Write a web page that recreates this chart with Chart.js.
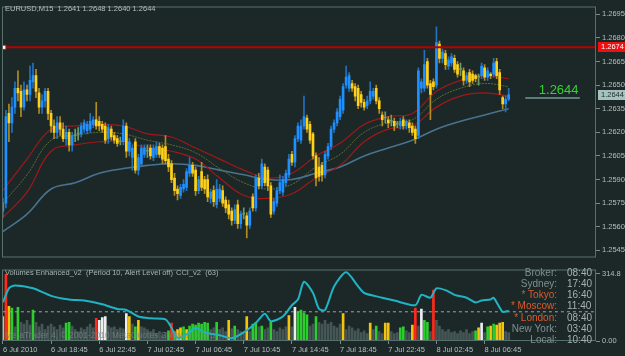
<!DOCTYPE html>
<html>
<head>
<meta charset="utf-8">
<script src="https://cdn.jsdelivr.net/npm/chart.js@4.4.1/dist/chart.umd.min.js"></script>
<style>
  html, body { margin: 0; padding: 0; background: #1c2828; }
  #wrap { position: relative; width: 625px; height: 356px; overflow: hidden; }
  canvas { position: absolute; left: 0; }
  #price { top: 0; }
  #lower { top: 263px; }
</style>
</head>
<body>
<div id="wrap">
  <canvas id="price" width="625" height="264"></canvas>
  <canvas id="lower" width="625" height="93"></canvas>
</div>
<script>
// EURUSD M15, 6 Jul 14:45 .. 8 Jul 08:45 (2010)
var symbolText = 'EURUSD,M15';

var opens = [
  1.2570,1.2575,1.2632,1.2626,1.2636,1.2648,1.2646,1.2636,1.2647,1.2644,1.2652,1.2656,1.2645,1.2636,1.2640,1.2646,
  1.2632,1.2624,1.2620,1.2626,1.2622,1.2616,1.2620,1.2612,1.2618,1.2619,1.2619,1.2622,1.2621,1.2622,1.2625,1.2628,
  1.2627,1.2625,1.2624,1.2616,1.2622,1.2618,1.2616,1.2614,1.2614,1.2624,1.2608,1.2604,1.2614,1.2596,1.2600,1.2606,
  1.2608,1.2610,1.2604,1.2606,1.2611,1.2610,1.2611,1.2603,1.2600,1.2591,1.2584,1.2580,1.2584,1.2585,1.2594,1.2599,
  1.2596,1.2583,1.2595,1.2590,1.2590,1.2578,1.2583,1.2574,1.2578,1.2583,1.2577,1.2574,1.2570,1.2564,1.2574,1.2562,
  1.2568,1.2567,1.2561,1.2579,1.2572,1.2591,1.2586,1.2598,1.2596,1.2586,1.2570,1.2575,1.2583,1.2582,1.2588,1.2593,
  1.2606,1.2601,1.2616,1.2615,1.2624,1.2629,1.2625,1.2619,1.2605,1.2598,1.2599,1.2593,1.2605,1.2611,1.2622,1.2626,
  1.2630,1.2634,1.2650,1.2648,1.2651,1.2649,1.2648,1.2644,1.2639,1.2637,1.2640,1.2643,1.2648,1.2640,1.2631,1.2629,
  1.2628,1.2627,1.2627,1.2625,1.2624,1.2628,1.2624,1.2626,1.2624,1.2622,1.2618,1.2648,1.2648,1.2665,1.2651,1.2652,
  1.2650,1.2676,1.2667,1.2670,1.2662,1.2664,1.2667,1.2663,1.2660,1.2659,1.2653,1.2658,1.2657,1.2656,1.2655,1.2656,
  1.2661,1.2655,1.2657,1.2657,1.2665,1.2658,1.2642,1.2638,1.2641
];
var highs = [
  1.2578,1.2634,1.2638,1.2642,1.2652,1.2659,1.2650,1.2652,1.2650,1.2662,1.2664,1.2660,1.2648,1.2644,1.2648,1.2648,
  1.2634,1.2628,1.2630,1.2630,1.2626,1.2624,1.2622,1.2620,1.2622,1.2623,1.2626,1.2628,1.2627,1.2632,1.2630,1.2639,
  1.2630,1.2627,1.2626,1.2625,1.2624,1.2620,1.2618,1.2617,1.2628,1.2626,1.2616,1.2612,1.2616,1.2606,1.2612,1.2612,
  1.2612,1.2612,1.2612,1.2614,1.2613,1.2612,1.2618,1.2606,1.2602,1.2594,1.2586,1.2587,1.2590,1.2597,1.2604,1.2601,
  1.2598,1.2592,1.2601,1.2592,1.2593,1.2584,1.2586,1.2590,1.2587,1.2586,1.2579,1.2577,1.2572,1.2574,1.2577,1.2570,
  1.2572,1.2569,1.2572,1.2581,1.2593,1.2594,1.2603,1.2600,1.2598,1.2588,1.2578,1.2585,1.2593,1.2592,1.2596,1.2606,
  1.2608,1.2618,1.2626,1.2628,1.2643,1.2631,1.2627,1.2620,1.2607,1.2604,1.2601,1.2608,1.2613,1.2624,1.2628,1.2635,
  1.2643,1.2651,1.2662,1.2658,1.2653,1.2651,1.2650,1.2646,1.2641,1.2643,1.2652,1.2648,1.2650,1.2642,1.2633,1.2633,
  1.2630,1.2631,1.2629,1.2627,1.2629,1.2630,1.2628,1.2628,1.2626,1.2624,1.2661,1.2654,1.2672,1.2667,1.2653,1.2654,
  1.2687,1.2678,1.2673,1.2672,1.2668,1.2670,1.2669,1.2665,1.2664,1.2661,1.2658,1.2660,1.2659,1.2657,1.2657,1.2664,
  1.2663,1.2661,1.2658,1.2667,1.2667,1.2660,1.2643,1.2643,1.2648
];
var lows = [
  1.2566,1.2572,1.2614,1.2620,1.2632,1.2640,1.2630,1.2634,1.2640,1.2640,1.2648,1.2642,1.2632,1.2632,1.2636,1.2628,
  1.2620,1.2616,1.2616,1.2618,1.2614,1.2612,1.2608,1.2608,1.2614,1.2615,1.2617,1.2620,1.2619,1.2620,1.2623,1.2622,
  1.2621,1.2620,1.2613,1.2613,1.2615,1.2613,1.2611,1.2612,1.2612,1.2604,1.2605,1.2596,1.2594,1.2593,1.2598,1.2604,
  1.2604,1.2603,1.2602,1.2604,1.2604,1.2600,1.2600,1.2595,1.2588,1.2580,1.2577,1.2578,1.2582,1.2583,1.2592,1.2592,
  1.2580,1.2581,1.2583,1.2581,1.2576,1.2575,1.2573,1.2572,1.2576,1.2573,1.2569,1.2565,1.2561,1.2562,1.2559,1.2559,
  1.2565,1.2553,1.2559,1.2570,1.2570,1.2584,1.2584,1.2586,1.2583,1.2566,1.2568,1.2573,1.2581,1.2580,1.2586,1.2591,
  1.2599,1.2598,1.2614,1.2613,1.2622,1.2620,1.2613,1.2603,1.2586,1.2589,1.2589,1.2591,1.2603,1.2609,1.2620,1.2624,
  1.2628,1.2632,1.2648,1.2646,1.2646,1.2640,1.2635,1.2636,1.2634,1.2635,1.2638,1.2641,1.2638,1.2632,1.2624,1.2626,
  1.2623,1.2624,1.2621,1.2623,1.2622,1.2622,1.2622,1.2620,1.2618,1.2613,1.2616,1.2645,1.2646,1.2648,1.2628,1.2647,
  1.2648,1.2664,1.2664,1.2660,1.2660,1.2662,1.2658,1.2655,1.2656,1.2650,1.2651,1.2649,1.2651,1.2652,1.2650,1.2654,
  1.2653,1.2653,1.2654,1.2655,1.2654,1.2644,1.2635,1.2633,1.2640
];
var closes = [
  1.2575,1.2630,1.2626,1.2636,1.2648,1.2645,1.2636,1.2647,1.2644,1.2653,1.2656,1.2646,1.2636,1.2640,1.2646,1.2632,
  1.2624,1.2620,1.2626,1.2622,1.2616,1.2620,1.2612,1.2618,1.2618,1.2619,1.2624,1.2626,1.2625,1.2627,1.2628,1.2624,
  1.2624,1.2622,1.2615,1.2623,1.2617,1.2615,1.2613,1.2614,1.2624,1.2608,1.2614,1.2610,1.2596,1.2604,1.2610,1.2610,
  1.2608,1.2605,1.2610,1.2611,1.2606,1.2603,1.2602,1.2598,1.2590,1.2583,1.2581,1.2585,1.2587,1.2595,1.2599,1.2594,
  1.2583,1.2590,1.2585,1.2584,1.2579,1.2582,1.2576,1.2584,1.2584,1.2575,1.2572,1.2568,1.2564,1.2571,1.2562,1.2568,
  1.2568,1.2561,1.2570,1.2572,1.2591,1.2586,1.2600,1.2588,1.2586,1.2568,1.2576,1.2583,1.2588,1.2590,1.2594,1.2603,
  1.2601,1.2616,1.2624,1.2624,1.2630,1.2622,1.2615,1.2605,1.2591,1.2592,1.2593,1.2606,1.2611,1.2622,1.2626,1.2633,
  1.2641,1.2649,1.2655,1.2656,1.2648,1.2643,1.2637,1.2639,1.2636,1.2640,1.2646,1.2646,1.2640,1.2635,1.2628,1.2629,
  1.2626,1.2627,1.2624,1.2625,1.2627,1.2624,1.2627,1.2623,1.2620,1.2616,1.2659,1.2652,1.2663,1.2650,1.2644,1.2649,
  1.2677,1.2667,1.2671,1.2663,1.2666,1.2668,1.2660,1.2657,1.2660,1.2653,1.2656,1.2652,1.2653,1.2654,1.2655,1.2662,
  1.2655,1.2659,1.2656,1.2664,1.2656,1.2647,1.2638,1.2641,1.2644
];

// moving averages, read every 8 bars
var maIdx   = [0,8,16,24,32,40,48,56,64,72,80,88,96,104,112,120,128,136,144,152,160,168];
var maSlow  = [1.2557,1.2568,1.2584,1.2588,1.2594,1.2597,1.2599,1.2600,1.2599,1.2596,1.2593,1.2590,1.2590,1.2594,1.2598,1.2605,1.2610,1.2615,1.2622,1.2627,1.2631,1.2635];
var envUp   = [1.2583,1.2603,1.2622,1.2624,1.2625,1.2624,1.2619,1.2617,1.2610,1.2603,1.2596,1.2591,1.2594,1.2605,1.2613,1.2625,1.2630,1.2632,1.2646,1.2653,1.2656,1.2654];
var envMid  = [1.2575,1.2593,1.2615,1.2618,1.2620,1.2619,1.2615,1.2612,1.2607,1.2597,1.2588,1.2584,1.2587,1.2598,1.2606,1.2620,1.2626,1.2628,1.2641,1.2648,1.2651,1.2649];
var envLow  = [1.2566,1.2582,1.2608,1.2612,1.2614,1.2614,1.2610,1.2608,1.2603,1.2591,1.2580,1.2578,1.2581,1.2591,1.2599,1.2614,1.2622,1.2624,1.2636,1.2643,1.2645,1.2643];

var alertLevel = 1.2674;
var priceTicks = [1.2545,1.2560,1.2575,1.2590,1.2605,1.2620,1.2635,1.2650,1.2665,1.2680,1.2695];

// Volumes Enhanced_v2
var volumes = [
  114,312,163,154,66,158,88,79,97,75,145,88,66,79,53,70,
  79,66,53,75,62,84,88,70,53,44,62,53,66,79,62,106,
  97,110,114,70,62,66,53,62,57,128,114,79,66,97,66,62,
  53,44,53,35,44,26,40,48,84,44,53,62,66,53,70,79,
  75,84,79,88,84,53,62,88,53,62,44,97,57,70,53,44,
  35,114,44,79,88,66,70,53,62,88,53,44,62,53,66,119,
  66,158,136,145,132,123,70,79,114,88,79,97,79,88,70,62,
  79,128,53,70,62,48,57,40,48,35,84,53,70,44,35,84,
  84,44,35,40,62,66,48,40,75,154,70,150,97,88,44,238,
  97,70,53,44,53,40,44,35,48,40,53,35,44,48,62,84,
  40,66,70,79,75,84,88,44,40
];
// g = rising, n = normal, y = climax, w = churn, r = high
var volKinds =
  'yrygngnnnngnnnnn' + 'nnnnnggnnnnnnnnr' + 'wwwnnnnnnwyngynn' + 'nnnnnnngrgyygygg' +
  'gggggnngnnnyngnn' + 'nynggngnngnnnnny' + 'nwggggnngnnnnnnn' + 'nynnnnnnnnyngnny' +
  'ynnnggnnyrnwggnr' + 'nnnnnnnnnnnnngyw' + 'ngygyyynn';
var volTicks = [0, 314.8];
var volTickLabels = ['0.00', '314.8'];

// CCI_v2 (63)
var cciIdx  = [0,2,4,10,16,22,27,33,38,41,45,49,54,56,58,62,64,67,72,76,80,84,87,89,93,96,98,100,103,105,107,110,114,118,120,126,130,137,139,142,144,147,150,154,157,159,162,163,166,168];
var cciVals = [56,140,157,140,95,73,67,45,17,11,-28,-39,-45,-95,-157,-123,-95,-123,-140,-157,-123,-67,-11,-56,-28,39,73,179,112,17,11,151,235,151,112,84,67,39,101,84,140,129,101,84,56,67,73,84,0,6];

var timeIdx    = [0,16,32,48,64,80,96,112,128,144,160];
var timeLabels = ['6 Jul 2010','6 Jul 18:45','6 Jul 22:45','7 Jul 02:45','7 Jul 06:45','7 Jul 10:45',
                  '7 Jul 14:45','7 Jul 18:45','7 Jul 22:45','8 Jul 02:45','8 Jul 06:45'];

var clockNames = ['Broker:','Sydney:','* Tokyo:','* Moscow:','* London:','New York:','Local:'];
var clockTimes = ['08:40','17:40','16:40','11:40','08:40','03:40','10:40'];

// price label object (bar position)
var labelBar = 178;

// ---- styling ----
var FRAME = '#56706c';
var TXT = '#b4bfbf';
var BULL = '#1e90ff', BULL_WICK = '#2272c0';
var BEAR = '#ffd21a', BEAR_WICK = '#b08d22';
var DOJI = '#6f9a6a';
var volColors = { g: '#2ecc2e', n: '#465656', y: '#f2c40f', w: '#eeeeee', r: '#ff2a1a' };
var xMin = -0.3, xMax = 197;
var nBars = closes.length;

Chart.defaults.font.family = '"Liberation Sans", Arial, sans-serif';
Chart.defaults.font.size = 7.5;
Chart.defaults.color = TXT;

function f4(v) { return v.toFixed(4); }

function candleColor(i, wick) {
  if (closes[i] > opens[i]) return wick ? BULL_WICK : BULL;
  if (closes[i] < opens[i]) return wick ? BEAR_WICK : BEAR;
  return DOJI;
}
function maLine(vals) {
  return maIdx.map(function (i, k) { return { x: i, y: vals[k] }; });
}

var framePlugin = {
  id: 'frame',
  afterDraw: function (chart) {
    var a = chart.chartArea, ctx = chart.ctx;
    ctx.save();
    ctx.strokeStyle = FRAME;
    ctx.lineWidth = 1;
    ctx.strokeRect(a.left + 0.5, a.top + 0.5, a.right - a.left - 1, a.bottom - a.top - 1);
    ctx.restore();
  }
};

var priceOverlay = {
  id: 'priceOverlay',
  afterDraw: function (chart) {
    var ctx = chart.ctx, ys = chart.scales.y, xs = chart.scales.x;
    var last = nBars - 1;
    ctx.save();
    ctx.font = '7.5px "Liberation Sans"';
    ctx.textBaseline = 'middle';
    ctx.textAlign = 'left';
    ctx.fillStyle = TXT;
    ctx.fillText(symbolText + '  ' + [opens[last], highs[last], lows[last], closes[last]].map(f4).join(' '), 5, 9);

    var ya = Math.round(ys.getPixelForValue(alertLevel));
    ctx.fillStyle = '#f01010';
    ctx.fillRect(598, ya - 5, 27, 10);
    ctx.fillStyle = '#ffffff';
    ctx.fillText(f4(alertLevel), 601, ya);

    var yc = Math.round(ys.getPixelForValue(closes[last]));
    ctx.fillStyle = '#a3c2c0';
    ctx.fillRect(598, yc - 5, 27, 10);
    ctx.fillStyle = '#1c2828';
    ctx.fillText(f4(closes[last]), 601, yc);

    var xl = xs.getPixelForValue(labelBar);
    ctx.font = '13px "Liberation Sans"';
    ctx.fillStyle = '#34d134';
    ctx.textBaseline = 'alphabetic';
    ctx.fillText(f4(closes[last]), xl, yc - 1);
    ctx.strokeStyle = '#5b7a7a';
    ctx.lineWidth = 2;
    ctx.beginPath();
    ctx.moveTo(xs.getPixelForValue(labelBar - 4.5), yc + 3);
    ctx.lineTo(xl + 41, yc + 3);
    ctx.stroke();
    ctx.restore();
  }
};

new Chart(document.getElementById('price'), {
  type: 'bar',
  data: {
    datasets: [
      {
        type: 'line', data: [{ x: 0.3, y: alertLevel }, { x: xMax, y: alertLevel }],
        borderColor: '#b80000', borderWidth: 2, pointStyle: 'rect', pointRadius: [3, 0],
        pointBackgroundColor: '#ffffff', pointBorderColor: '#d00000', pointBorderWidth: 1, order: 0
      },
      {
        data: closes.map(function (c, i) { return { x: i, y: [opens[i], c] }; }),
        backgroundColor: function (ctx) { return candleColor(ctx.dataIndex, false); },
        barThickness: 2, minBarLength: 1, grouped: false, order: 1
      },
      {
        data: closes.map(function (c, i) { return { x: i, y: [lows[i], highs[i]] }; }),
        backgroundColor: function (ctx) { return candleColor(ctx.dataIndex, true); },
        barThickness: 1, grouped: false, order: 2
      },
      { type: 'line', data: maLine(envUp), borderColor: '#a01818', borderWidth: 1.2, pointRadius: 0, tension: 0.4, order: 3 },
      { type: 'line', data: maLine(envMid), borderColor: '#5d6a30', borderWidth: 1, borderDash: [2, 1], pointRadius: 0, tension: 0.4, order: 3 },
      { type: 'line', data: maLine(envLow), borderColor: '#a01818', borderWidth: 1.2, pointRadius: 0, tension: 0.4, order: 3 },
      { type: 'line', data: maLine(maSlow), borderColor: '#48728e', borderWidth: 1.6, pointRadius: 0, tension: 0.4, order: 4 }
    ]
  },
  options: {
    responsive: false,
    animation: false,
    devicePixelRatio: 1,
    layout: { padding: { top: 3, bottom: 2, left: 2, right: 0 }, autoPadding: false },
    plugins: { legend: { display: false }, tooltip: { enabled: false } },
    scales: {
      x: { type: 'linear', min: xMin, max: xMax, display: false, offset: false, grid: { offset: false } },
      y: {
        position: 'right', min: 1.25405, max: 1.26999,
        afterBuildTicks: function (s) { s.ticks = priceTicks.map(function (v) { return { value: v }; }); },
        afterFit: function (s) { s.width = 29; },
        ticks: { padding: 2, callback: function (v) { return f4(v); }, color: TXT },
        grid: { drawOnChartArea: false, tickLength: 4, color: '#7a8a8a' },
        border: { display: false }
      }
    }
  },
  plugins: [framePlugin, priceOverlay]
});

var lowerOverlay = {
  id: 'lowerOverlay',
  afterDatasetsDraw: function (chart) {
    var ctx = chart.ctx;
    ctx.save();
    ctx.font = '8.5px "Liberation Sans"';
    ctx.fillStyle = 'rgba(120,135,135,0.75)';
    ctx.textBaseline = 'middle';
    ctx.fillText('MetaTrader 4, \u00a9 2001-2010 MetaQuotes Software Corp.', 5, 73);
    ctx.restore();
  },
  afterDraw: function (chart) {
    var ctx = chart.ctx;
    ctx.save();
    ctx.font = '7.5px "Liberation Sans"';
    ctx.fillStyle = '#a8b4b4';
    ctx.textBaseline = 'middle';
    ctx.fillText('Volumes Enhanced_v2  (Period 10, Alert Level off)', 5, 10);
    ctx.fillText('CCI_v2  (63)', 176, 10);

    ctx.font = '10px "Liberation Sans"';
    clockNames.forEach(function (name, k) {
      var y = 10 + k * 11.2;
      ctx.textAlign = 'right';
      ctx.fillStyle = name.charAt(0) === '*' ? '#dc5a2c' : '#7f9090';
      ctx.fillText(name, 557, y);
      ctx.textAlign = 'left';
      ctx.fillStyle = '#a9b0b0';
      ctx.fillText(clockTimes[k], 567, y);
    });
    ctx.restore();
  }
};

new Chart(document.getElementById('lower'), {
  type: 'bar',
  data: {
    datasets: [
      {
        type: 'line', yAxisID: 'cci',
        data: cciIdx.map(function (i, k) { return { x: i, y: cciVals[k] }; }),
        borderColor: '#1fb3c3', borderWidth: 2, pointRadius: 0, tension: 0.25, order: 0
      },
      {
        type: 'line', yAxisID: 'cci', data: [{ x: 0, y: 0 }, { x: xMax, y: 0 }],
        borderColor: '#9aa8a8', borderWidth: 1, borderDash: [3, 3], pointRadius: 0, order: 1
      },
      {
        yAxisID: 'vol',
        data: volumes.map(function (v, i) { return { x: i, y: v }; }),
        backgroundColor: function (ctx) { return volColors[volKinds.charAt(ctx.dataIndex)]; },
        barThickness: 2, grouped: false, order: 2
      }
    ]
  },
  options: {
    responsive: false,
    animation: false,
    devicePixelRatio: 1,
    layout: { padding: { top: 2, bottom: 0, left: 2, right: 0 }, autoPadding: false },
    plugins: { legend: { display: false }, tooltip: { enabled: false } },
    scales: {
      x: {
        type: 'linear', min: xMin, max: xMax, offset: false,
        afterBuildTicks: function (s) { s.ticks = timeIdx.map(function (v) { return { value: v }; }); },
        afterFit: function (s) { s.height = 15; },
        ticks: {
          align: 'start', maxRotation: 0, autoSkip: false, padding: 1, color: TXT,
          callback: function (v, i) { return timeLabels[i]; }
        },
        grid: { drawOnChartArea: false, tickLength: 3, color: '#7a8a8a', offset: false },
        border: { display: false }
      },
      vol: {
        position: 'right', min: 0, max: 335,
        afterBuildTicks: function (s) { s.ticks = volTicks.map(function (v) { return { value: v }; }); },
        afterFit: function (s) { s.width = 29; },
        ticks: { padding: 2, color: TXT, callback: function (v, i) { return volTickLabels[i]; } },
        grid: { drawOnChartArea: false, tickLength: 4, color: '#7a8a8a' },
        border: { display: false }
      },
      cci: { display: false, min: -174, max: 252 }
    }
  },
  plugins: [framePlugin, lowerOverlay]
});
</script>
</body>
</html>
